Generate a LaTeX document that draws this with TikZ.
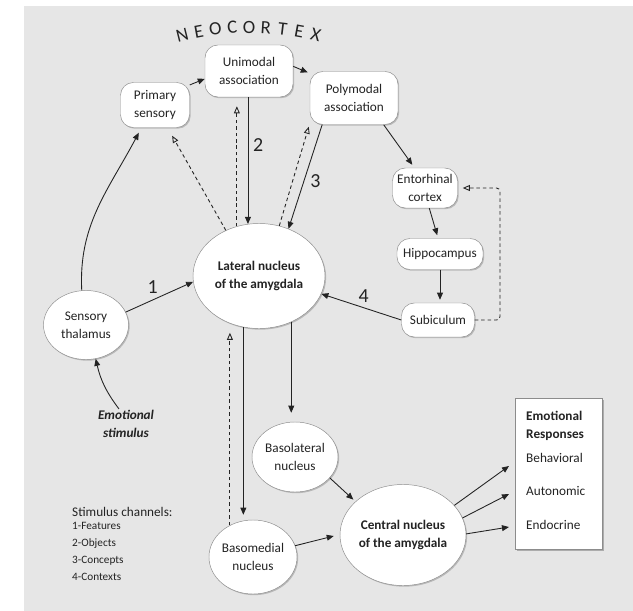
\documentclass[tikz,border=0pt]{standalone}
\usepackage{fontspec}
\setmainfont{Carlito}
\usepackage{tikz}
\usetikzlibrary{shapes.geometric, arrows.meta, positioning, calc, shadows}

\definecolor{bggray}{RGB}{230,230,230}
\definecolor{ink}{RGB}{35,35,35}
\definecolor{rim}{RGB}{140,140,140}

\newcommand{\nodefont}{\fontsize{11.3}{15.3}\selectfont}
\newcommand{\listfont}{\fontsize{9.6}{14.4}\selectfont}

\tikzset{
  box/.style={draw=rim, fill=white, rounded corners=11pt, align=center, inner sep=1pt, font=\nodefont, text=ink,
    drop shadow={shadow xshift=1pt, shadow yshift=-1pt, fill=black, opacity=0.2}},
  oval/.style={ellipse, draw=rim, fill=white, align=center, inner sep=0pt, font=\nodefont, text=ink,
    drop shadow={shadow xshift=1pt, shadow yshift=-1pt, fill=black, opacity=0.2}},
  link/.style={ink, line width=0.75pt, -{Triangle[length=6pt, width=5pt]}},
  back/.style={ink, line width=0.75pt, dash pattern=on 3pt off 2.5pt, -{Triangle[open, length=6pt, width=5pt]}},
  num/.style={font=\fontsize{17}{17}\selectfont, text=ink, inner sep=0pt},
  neo/.style={font=\fontsize{16}{16}\selectfont, text=ink, inner sep=0pt},
}

\begin{document}
\begin{tikzpicture}[x=0.03cm, y=-0.03cm]
        \useasboundingbox (0, 0) rectangle (633, 611);
        \fill[bggray] (24, 6) rectangle (633, 611);

        % Neocortex
        \foreach \ch [count=\i from 0] in {N,E,O,C,O,R,T,E,X} {
            \pgfmathsetmacro{\ang}{-14+3.5*\i}
            \node[neo, rotate=-\ang] (neo\i) at ({249+276*sin(\ang)}, {303-276*cos(\ang)}) {\ch};
        }
        \node[box, minimum width=2.07cm, minimum height=1.35cm] (prim) at (155, 105) {Primary\\sensory};
        \node[box, minimum width=2.64cm, minimum height=1.56cm] (uni) at (249, 71) {Unimodal\\association};
        \node[box, minimum width=2.64cm, minimum height=1.59cm] (poly) at (354, 98) {Polymodal\\association};

        % Hippocampal loop
        \node[box, minimum width=1.95cm, minimum height=1.2cm] (ento) at (425, 188) {Entorhinal\\cortex};
        \node[box, minimum width=2.58cm, minimum height=0.93cm] (hippo) at (440, 254) {Hippocampus};
        \node[box, minimum width=2.19cm, minimum height=1.02cm] (sub) at (438, 320) {Subiculum};

        % Amygdala
        \node[oval, font=\nodefont\bfseries, minimum width=3.96cm, minimum height=3.15cm] (lat) at (259, 276) {Lateral nucleus\\of the amygdala};
        \node[oval, minimum width=2.55cm, minimum height=2.07cm] (thal) at (86, 325) {Sensory\\thalamus};
        \node[font=\nodefont\bfseries\itshape, text=ink, align=center, inner sep=1pt] (stim) at (126, 424) {Emotional\\stimulus};
        \node[oval, minimum width=2.58cm, minimum height=2.1cm] (blat) at (295, 457) {Basolateral\\nucleus};
        \node[oval, minimum width=2.64cm, minimum height=2.22cm] (bmed) at (253, 557) {Basomedial\\nucleus};
        \node[oval, font=\nodefont\bfseries, minimum width=3.78cm, minimum height=3.03cm] (cent) at (403, 535) {Central nucleus\\of the amygdala};

        % Responses
        \node[draw=rim, fill=white, minimum width=2.61cm, minimum height=4.53cm,
              drop shadow={shadow xshift=1.5pt, shadow yshift=-1.5pt, fill=black, opacity=0.25}] (resp) at (558.5, 473.5) {};
        \node[font=\nodefont\bfseries, text=ink, align=left, anchor=west, inner sep=0pt] (title) at (526, 426) {Emotional\\Responses};
        \node[font=\nodefont, text=ink, anchor=west, inner sep=0pt] (beh) at (526, 458) {Behavioral};
        \node[font=\nodefont, text=ink, anchor=west, inner sep=0pt] (auto) at (526, 491) {Autonomic};
        \node[font=\nodefont, text=ink, anchor=west, inner sep=0pt] (endo) at (526, 525) {Endocrine};
        \coordinate (tobeh) at (509, 466);
        \coordinate (toauto) at (509, 494);
        \coordinate (toendo) at (509, 527);

        % Legend
        \node[font=\fontsize{11.3}{14}\selectfont, text=ink, anchor=west, inner sep=0pt] (chan) at (72, 512) {Stimulus channels:};
        \node[font=\listfont, text=ink, align=left, anchor=north west, inner sep=0pt] (list) at (72, 522)
            {1-Features\\2-Objects\\3-Concepts\\4-Contexts};

        % Forward paths
        \draw[link] (thal.97) to[out=93, in=-118] ([shift={(-2,5)}]prim.-122);
        \draw[link] (prim.30) -- (uni.-170);
        \draw[link] (uni.6) -- ([shift={(-2,0)}]poly.150);
        \draw[link] (poly.-42) -- ([shift={(-1,-3)}]ento.120);
        \draw[link] (ento.-78) -- ([shift={(0,-3)}]hippo.100);
        \draw[link] (hippo.south) -- ([shift={(0,-3)}]hippo.south |- sub.north);
        \draw[link] (lat.102 |- uni.south) -- node[num, pos=0.38, right=4pt] {2} (lat.102);
        \draw[link] (poly.220) -- node[num, pos=0.54, right=5pt] {3} (lat.58);
        \draw[link] (thal.18) -- node[num, pos=0.4, above=5pt] {1} (lat.185);
        \draw[link] (sub.west) -- node[num, pos=0.47, above=4pt] {4} (lat.344);
        \draw[link] (stim.115) to[bend left=12] (thal.-74);

        % Feedback paths
        \draw[back] (lat.126) -- ([shift={(4,8)}]prim.-60);
        \draw[back] (lat.114) -- ([shift={(0,9)}]lat.114 |- uni.south);
        \draw[back] (lat.68) -- ([shift={(-1,2)}]poly.south west);
        \draw[back, rounded corners=3pt] (sub.east) -| (500, 255) |- ([shift={(5,0)}]ento.east);
        \draw[back] (bmed.126) -- ([shift={(0,4)}]bmed.126 |- lat.south);

        % Amygdala outputs
        \draw[link] (lat.253) -- ([shift={(0,-5)}]lat.253 |- bmed.north);
        \draw[link] (lat.305) -- ([shift={(0,-9)}]lat.305 |- blat.north);
        \draw[link] (blat.-31) -- ([shift={(-2,-2)}]cent.145);
        \draw[link] (bmed.15) -- ([shift={(-6,1)}]cent.180);
        \draw[link] (cent.30) -- (tobeh);
        \draw[link] (cent.16) -- (toauto);
        \draw[link] (cent.1) -- (toendo);
    \end{tikzpicture}
\end{document}
